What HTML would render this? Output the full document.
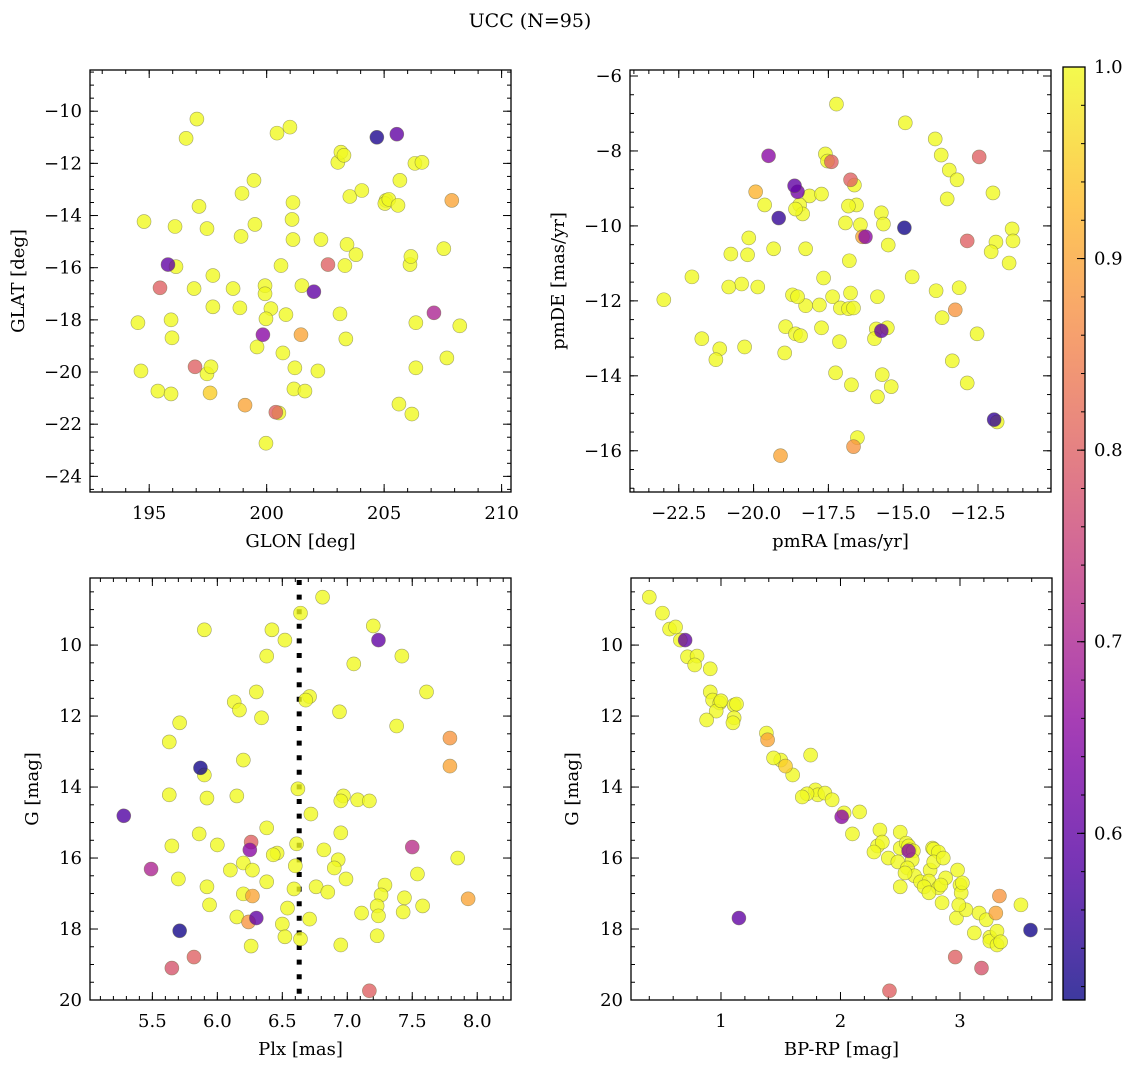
<!DOCTYPE html>
<html><head><meta charset="utf-8"><style>
html,body{margin:0;padding:0;background:#fff}
svg{display:block;font-family:"DejaVu Serif","Liberation Serif",serif}
</style></head><body>
<svg id="fig" width="1136" height="1067" viewBox="0 0 1136 1067">
<text x="530" y="27" text-anchor="middle" font-size="19">UCC (N=95)</text>
</svg>
<script>
const glon=[197.03,196.57,200.44,200.99,204.69,205.54,197.12,198.95,199.46,201.08,201.12,203.03,203.16,203.29,205.08,205.03,205.20,205.59,205.67,206.31,206.61,207.88,196.10,194.78,197.46,198.91,199.50,203.42,203.33,201.12,202.31,203.80,203.54,204.05,207.54,195.80,196.14,197.71,195.46,198.57,199.93,199.93,200.61,200.18,201.50,202.01,202.61,206.10,206.14,194.52,195.93,195.97,197.71,196.91,198.86,199.97,200.82,201.46,203.12,203.37,199.84,199.59,200.69,201.20,201.16,202.18,201.63,206.35,207.12,208.22,194.65,195.37,195.93,196.95,197.46,197.63,197.59,199.08,200.39,200.52,199.97,205.63,206.18,206.35,207.67];
const glat=[-10.30,-11.04,-10.84,-10.61,-11.00,-10.88,-13.65,-13.15,-12.65,-14.15,-13.50,-11.96,-11.57,-11.69,-13.42,-13.54,-13.38,-13.61,-12.65,-12.00,-11.96,-13.42,-14.42,-14.23,-14.50,-14.80,-14.34,-15.11,-15.92,-14.92,-14.92,-15.50,-13.27,-13.04,-15.27,-15.88,-15.96,-16.30,-16.77,-16.80,-16.69,-17.00,-15.92,-17.57,-16.69,-16.92,-15.88,-15.88,-15.57,-18.11,-18.00,-18.69,-17.50,-16.80,-17.54,-17.96,-17.80,-18.57,-17.77,-18.73,-18.57,-19.04,-19.27,-19.84,-20.65,-19.96,-20.73,-18.11,-17.73,-18.23,-19.96,-20.73,-20.84,-19.80,-20.07,-19.80,-20.80,-21.27,-21.54,-21.57,-22.73,-21.23,-21.61,-19.84,-19.46];
const prob1=[1,1,1,1,0.53,0.6,1,1,1,1,1,1,1,1,1,1,1,1,1,1,1,0.9,1,1,1,1,1,1,1,1,1,1,1,1,1,0.6,1,1,0.8,1,1,1,1,1,1,0.6,0.8,1,1,1,1,1,1,1,1,1,1,0.9,1,1,0.65,1,1,1,1,1,1,1,0.7,1,1,1,1,0.8,1,1,0.95,0.9,0.8,1,1,1,1,1,1];

const pmra=[-17.23,-14.93,-17.60,-17.53,-17.40,-13.93,-13.73,-13.46,-13.20,-19.50,-18.63,-18.53,-16.76,-16.63,-16.56,-18.13,-17.73,-18.46,-18.36,-18.60,-19.93,-19.63,-19.16,-13.53,-12.46,-12.00,-16.83,-16.93,-16.43,-16.26,-16.36,-15.73,-15.66,-14.96,-11.36,-11.33,-11.90,-12.06,-12.86,-20.16,-20.20,-20.76,-11.46,-19.33,-18.26,-15.50,-16.80,-14.70,-22.06,-20.40,-20.83,-19.86,-17.66,-13.90,-13.13,-18.26,-18.70,-18.53,-17.36,-16.76,-15.86,-13.26,-17.80,-17.10,-16.83,-16.66,-23.00,-13.70,-18.93,-17.73,-15.90,-15.73,-15.53,-15.96,-18.60,-18.43,-18.96,-21.73,-17.13,-12.53,-20.30,-21.13,-21.26,-13.36,-17.26,-15.70,-15.40,-15.86,-16.73,-12.86,-11.96,-11.86,-16.66,-16.53,-19.10];
const pmde=[-6.75,-7.25,-8.08,-8.27,-8.29,-7.68,-8.11,-8.51,-8.77,-8.13,-8.93,-9.09,-8.77,-8.91,-9.44,-9.20,-9.15,-9.44,-9.68,-9.55,-9.09,-9.44,-9.79,-9.28,-8.16,-9.12,-9.47,-9.92,-9.97,-10.29,-10.29,-9.65,-9.95,-10.05,-10.08,-10.40,-10.43,-10.69,-10.40,-10.32,-10.77,-10.75,-10.99,-10.61,-10.61,-10.51,-10.93,-11.36,-11.36,-11.55,-11.63,-11.63,-11.39,-11.73,-11.65,-12.13,-11.84,-11.89,-11.89,-11.79,-11.89,-12.24,-12.11,-12.19,-12.21,-12.19,-11.97,-12.45,-12.69,-12.72,-12.75,-12.80,-12.72,-13.01,-12.88,-12.93,-13.39,-13.01,-13.09,-12.88,-13.23,-13.28,-13.57,-13.60,-13.92,-13.97,-14.29,-14.56,-14.24,-14.19,-15.17,-15.23,-15.89,-15.65,-16.13];
const prob2=[1,1,1,1,0.8,1,1,1,1,0.65,0.6,0.62,0.8,1,1,1,1,1,1,1,0.92,1,0.55,1,0.8,1,1,1,1,0.65,0.9,1,1,0.52,1,1,1,1,0.8,1,1,1,1,1,1,1,1,1,1,1,1,1,1,1,1,1,1,1,1,1,1,0.88,1,1,1,1,1,1,1,1,1,0.6,1,1,1,1,1,1,1,1,1,1,1,1,1,1,1,1,1,1,0.55,1,0.88,1,0.9];

const plx=[6.81,6.64,7.20,5.90,6.42,6.52,7.24,7.05,6.38,7.42,6.71,6.68,7.61,6.13,6.17,6.30,5.71,6.34,6.94,6.20,7.38,6.97,5.63,7.79,7.79,5.87,5.90,5.92,5.63,6.15,6.62,6.72,6.95,7.08,7.17,6.95,5.28,6.38,6.26,6.25,5.86,5.65,6.00,6.61,6.46,6.43,6.20,7.50,6.82,6.93,6.10,6.27,5.49,6.60,6.90,6.99,7.29,7.54,5.70,7.85,5.92,6.76,6.85,7.44,6.38,6.59,6.20,6.54,7.26,6.27,7.58,7.23,7.93,5.94,6.15,6.30,6.24,6.50,7.43,7.24,6.52,6.71,7.11,6.26,6.64,6.95,7.23,5.71,5.82,5.65,7.17];
const gmag3=[8.65,9.10,9.46,9.57,9.57,9.86,9.86,10.53,10.31,10.31,11.45,11.55,11.32,11.60,11.83,11.32,12.19,12.05,11.88,13.24,12.28,14.25,12.73,12.62,13.41,13.46,13.66,14.31,14.22,14.25,14.05,14.76,14.39,14.36,14.39,15.29,14.81,15.15,15.55,15.77,15.32,15.66,15.63,15.60,15.86,15.91,16.14,15.69,15.77,16.05,16.34,16.34,16.31,16.22,16.28,16.59,16.76,16.45,16.59,16.00,16.81,16.81,16.96,17.12,16.67,16.87,17.01,17.41,17.04,17.07,17.35,17.35,17.15,17.32,17.66,17.69,17.80,17.86,17.52,17.63,18.22,17.72,17.55,18.48,18.28,18.45,18.19,18.05,18.79,19.10,19.74];
const prob3=[1,1,1,1,1,1,0.6,1,1,1,1,1,1,1,1,1,1,1,1,1,1,1,1,0.88,0.9,0.52,1,1,1,1,1,1,1,1,1,1,0.58,1,0.8,0.65,1,1,1,1,1,1,1,0.72,1,1,1,1,0.7,1,1,1,1,1,1,1,1,1,1,1,1,1,1,1,1,0.9,1,1,0.9,1,1,0.6,0.88,1,1,1,1,1,1,1,1,1,1,0.52,0.8,0.78,0.8];

const bprp=[0.40,0.51,0.57,0.62,0.66,0.70,0.72,0.80,0.78,0.91,0.91,0.93,0.99,0.96,1.00,1.11,0.88,1.11,1.10,1.13,1.38,1.39,1.50,1.54,1.44,1.60,1.75,1.79,1.81,1.87,1.93,1.72,1.68,2.03,2.16,2.01,2.10,2.33,2.31,2.50,2.35,2.40,2.28,2.50,2.55,2.57,2.58,2.48,2.57,2.61,2.60,2.77,2.78,2.82,2.56,2.75,2.78,2.50,2.62,2.67,2.54,2.74,2.82,2.86,2.98,2.70,2.74,2.88,2.84,2.85,3.00,3.01,2.97,3.05,3.16,2.99,3.02,3.12,3.25,3.25,3.31,3.31,3.34,3.22,3.51,3.33,3.30,3.59,1.15,2.96,3.18,2.41];
const gmag4=[8.65,9.10,9.55,9.49,9.86,9.86,10.33,10.31,10.56,10.67,11.32,11.55,11.63,11.86,11.57,11.69,12.11,12.05,12.19,11.66,12.48,12.67,13.24,13.41,13.18,13.66,13.10,14.08,14.22,14.17,14.36,14.19,14.28,14.73,14.70,14.84,15.32,15.21,15.66,15.27,15.55,16.00,15.83,15.72,15.58,15.66,15.77,16.11,15.80,15.80,16.05,15.72,15.75,15.83,16.28,16.34,16.11,16.81,16.50,16.67,16.42,16.65,16.84,16.00,16.34,16.81,16.98,16.56,16.76,17.26,16.76,16.98,17.69,17.46,17.55,17.32,16.70,18.11,18.23,18.34,18.06,18.45,18.36,17.74,17.32,17.07,17.55,18.03,17.69,18.79,19.10,19.74];
const prob4=[1,1,1,1,1,0.6,1,1,1,1,1,1,1,1,1,1,1,1,1,1,1,0.9,1,0.95,1,1,1,1,1,1,1,1,1,1,1,0.65,1,1,1,1,1,1,1,1,1,1,1,1,0.65,1,1,1,1,1,1,1,1,1,1,1,1,1,1,1,1,1,1,1,1,1,1,1,1,1,1,1,1,1,1,1,1,1,1,1,1,0.88,0.9,0.52,0.6,0.8,0.78,0.8];

const plxCut=[6.63];
const cbarTicks=[0.6,0.7,0.8,0.9,1.0];

const NS='http://www.w3.org/2000/svg';
const svg=document.getElementById('fig');
function el(tag,attrs,parent){const e=document.createElementNS(NS,tag);for(const k in attrs)e.setAttribute(k,attrs[k]);(parent||svg).appendChild(e);return e;}
const VMIN=0.513,VMAX=1.0;
const stops=[[13,8,135],[84,2,163],[139,10,165],[185,50,137],[219,92,104],[244,136,73],[254,188,43],[240,249,33]];
function plasma(v){let t=(v-VMIN)/(VMAX-VMIN);t=Math.max(0,Math.min(1,t));const f=t*(stops.length-1);const i=Math.min(stops.length-2,Math.floor(f));const r=f-i;const c=stops[i].map((a,j)=>Math.round(a+(stops[i+1][j]-a)*r));return `rgb(${c[0]},${c[1]},${c[2]})`;}
function fmt(v,d){let s=v.toFixed(d);return s.replace('-','\u2212');}

function panel(cfg){
  const {L,R,T,B,x0,x1,y0,y1,name}=cfg;
  const g=el('g',{});
  
  
  const sx=v=>L+(v-x0)/(x1-x0)*(R-L);
  const sy=v=>T+(v-y1)/(y0-y1)*(B-T);
  const ticks=(lo,hi,st)=>{const a=[];const s=Math.ceil(lo/st-1e-6);for(let k=s;k*st<=hi+1e-9;k++)a.push(+(k*st).toFixed(6));return a;};
  ticks(Math.min(x0,x1),Math.max(x0,x1),cfg.xmin).forEach(v=>{const x=sx(v);el('line',{x1:x,x2:x,y1:B,y2:B-4,stroke:'#000','stroke-width':1},g);el('line',{x1:x,x2:x,y1:T,y2:T+4,stroke:'#000','stroke-width':1},g);});
  ticks(Math.min(y0,y1),Math.max(y0,y1),cfg.ymin).forEach(v=>{const y=sy(v);el('line',{x1:L,x2:L+4,y1:y,y2:y,stroke:'#000','stroke-width':1},g);el('line',{x1:R,x2:R-4,y1:y,y2:y,stroke:'#000','stroke-width':1},g);});
  ticks(Math.min(x0,x1),Math.max(x0,x1),cfg.xmaj).forEach(v=>{const x=sx(v);el('line',{x1:x,x2:x,y1:B,y2:B-8,stroke:'#000','stroke-width':1},g);el('line',{x1:x,x2:x,y1:T,y2:T+8,stroke:'#000','stroke-width':1},g);
    const t=el('text',{x:x,y:B+27,'text-anchor':'middle','font-size':18},g);t.textContent=fmt(v,cfg.xd);
    
    });
  ticks(Math.min(y0,y1),Math.max(y0,y1),cfg.ymaj).forEach(v=>{const y=sy(v);el('line',{x1:L,x2:L+8,y1:y,y2:y,stroke:'#000','stroke-width':1},g);el('line',{x1:R,x2:R-8,y1:y,y2:y,stroke:'#000','stroke-width':1},g);
    const t=el('text',{x:L-8,y:y+6,'text-anchor':'end','font-size':18},g);t.textContent=fmt(v,0);
    
    });
  if(cfg.vline){plxCut.forEach(v=>{const l=el('line',{x1:sx(v),x2:sx(v),y1:T+2,y2:B,stroke:'#000','stroke-width':5,'stroke-dasharray':'5 9.6'},g);
    
    });}
  const idx=cfg.xs.map((_,i)=>i).sort((a,b)=>cfg.ps[b]-cfg.ps[a]);
  idx.forEach(i=>{const c=el('circle',{cx:sx(cfg.xs[i]),cy:sy(cfg.ys[i]),r:7,fill:plasma(cfg.ps[i]),'fill-opacity':0.8,stroke:'#6b6b40','stroke-opacity':0.6,'stroke-width':0.6},g);
    
    });
  const fr=el('rect',{x:L,y:T,width:R-L,height:B-T,fill:'none',stroke:'#000','stroke-width':1.3},g);
  
  
  const xl=el('text',{x:(L+R)/2,y:B+55,'text-anchor':'middle','font-size':18},g);xl.textContent=cfg.xlabel;
  
  
  const yx=cfg.ylx, yy=(T+B)/2;
  const yl=el('text',{x:yx,y:yy,'text-anchor':'middle','font-size':18,transform:`rotate(-90 ${yx} ${yy})`},g);yl.textContent=cfg.ylabel;
  
  
}
panel({name:'glon-glat-panel',L:90,R:511,T:70,B:492,x0:192.48,x1:210.4,y0:-24.6,y1:-8.42,xmaj:5,xmin:1,ymaj:2,ymin:0.5,xd:0,xs:glon,ys:glat,ps:prob1,xlabel:'GLON [deg]',ylabel:'GLAT [deg]',ylx:24});
panel({name:'pm-panel',L:630,R:1051,T:70,B:492,x0:-24.13,x1:-10.06,y0:-17.1,y1:-5.84,xmaj:2.5,xmin:0.5,ymaj:2,ymin:0.5,xd:1,xs:pmra,ys:pmde,ps:prob2,xlabel:'pmRA [mas/yr]',ylabel:'pmDE [mas/yr]',ylx:564});
panel({name:'plx-g-panel',L:90,R:511,T:578,B:1000,x0:5.02,x1:8.26,y0:20,y1:8.11,xmaj:0.5,xmin:0.1,ymaj:2,ymin:0.5,xd:1,xs:plx,ys:gmag3,ps:prob3,xlabel:'Plx [mas]',ylabel:'G [mag]',ylx:38,vline:true});
panel({name:'cmd-panel',L:631,R:1052,T:578,B:1000,x0:0.247,x1:3.77,y0:20,y1:8.11,xmaj:1,xmin:0.2,ymaj:2,ymin:0.5,xd:0,xs:bprp,ys:gmag4,ps:prob4,xlabel:'BP-RP [mag]',ylabel:'G [mag]',ylx:578});

const cb=el('g',{});


const defs=el('defs',{},cb);
const lg=el('linearGradient',{id:'cg',x1:0,y1:1,x2:0,y2:0},defs);
for(let k=0;k<=20;k++){const v=VMIN+(VMAX-VMIN)*k/20;el('stop',{offset:k/20,'stop-color':plasma(v),'stop-opacity':0.8},lg);}
const CT=67,CB=1000,CL=1063,CR=1085;
el('rect',{x:CL,y:CT,width:CR-CL,height:CB-CT,fill:'url(#cg)',stroke:'#000','stroke-width':1.3},cb);
const cy=v=>CB-(v-VMIN)/(VMAX-VMIN)*(CB-CT);
for(let v=0.52;v<=1.0001;v+=0.02){el('line',{x1:CR,x2:CR-4,y1:cy(v),y2:cy(v),stroke:'#000','stroke-width':1},cb);}
cbarTicks.forEach(v=>{el('line',{x1:CR,x2:CR-8,y1:cy(v),y2:cy(v),stroke:'#000','stroke-width':1},cb);
  const t=el('text',{x:CR+9,y:cy(v)+6,'font-size':18},cb);t.textContent=v.toFixed(1);
  
  });
</script>
</body></html>
